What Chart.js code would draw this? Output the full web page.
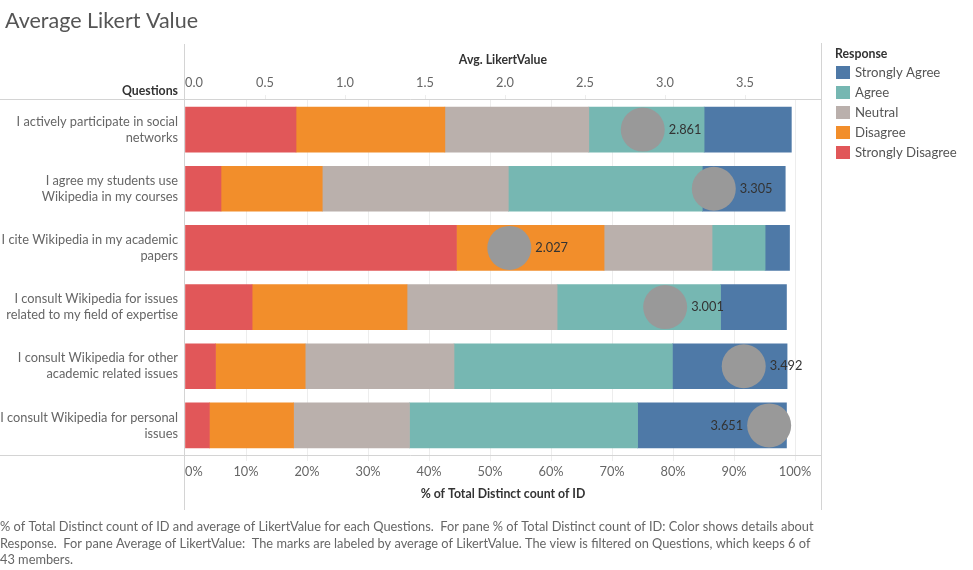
<!DOCTYPE html>
<html>
<head>
<meta charset="utf-8">
<script src="https://cdn.jsdelivr.net/npm/chart.js@4"></script>
<style>
  html, body { margin: 0; padding: 0; background: #fff; }
  #wrap { width: 973px; height: 570px; }
</style>
</head>
<body>
<div id="wrap"><canvas id="c" width="973" height="570"></canvas></div>
<script>
const questions = [
  ["I actively participate in social", "networks"],
  ["I agree my students use", "Wikipedia in my courses"],
  ["I cite Wikipedia in my academic", "papers"],
  ["I consult Wikipedia for issues", "related to my field of expertise"],
  ["I consult Wikipedia for other", "academic related issues"],
  ["I consult Wikipedia for personal", "issues"]
];
// % of Total Distinct count of ID per response
const stronglyDisagree = [18.2, 5.9, 44.5, 11.0, 5.0, 4.0];
const disagree         = [24.4, 16.6, 24.2, 25.4, 14.7, 13.8];
const neutral          = [23.6, 30.5, 17.7, 24.6, 24.4, 19.0];
const agree            = [18.9, 31.8, 8.7, 26.8, 35.8, 37.4];
const stronglyAgree    = [14.3, 13.6, 4.0, 10.8, 18.8, 24.4];
// Average LikertValue per question
const avgLikert = [2.861, 3.305, 2.027, 3.001, 3.492, 3.651];

const responses = ["Strongly Agree", "Agree", "Neutral", "Disagree", "Strongly Disagree"];
const colors = {
  "Strongly Agree": "#4e79a7",
  "Agree": "#76b7b2",
  "Neutral": "#bab0ac",
  "Disagree": "#f28e2b",
  "Strongly Disagree": "#e15759"
};

const FONT = "Lato";
const FS = 12.8;
Chart.defaults.font.family = FONT;
Chart.defaults.font.size = 12;
Chart.defaults.color = "#666";

const LINE = "#d4d4d4";
const GRID = "#ededed";

function barDs(label, data) {
  return {
    type: "bar", label, data,
    backgroundColor: colors[label],
    borderWidth: 0,
    barThickness: 45,
    xAxisID: "x", yAxisID: "y",
    order: 2
  };
}

const decor = {
  id: "decor",
  beforeDatasetsDraw(chart) {
    const ctx = chart.ctx;
    const a = chart.chartArea;
    ctx.save();
    ctx.strokeStyle = LINE;
    ctx.lineWidth = 1;
    ctx.beginPath();
    ctx.moveTo(0, Math.round(a.top) - 0.5); ctx.lineTo(Math.round(a.right) + 0.5, Math.round(a.top) - 0.5);
    ctx.moveTo(0, Math.round(a.bottom) + 0.5); ctx.lineTo(Math.round(a.right) + 0.5, Math.round(a.bottom) + 0.5);
    ctx.moveTo(Math.round(a.left) - 0.5, 44); ctx.lineTo(Math.round(a.left) - 0.5, 510);
    ctx.moveTo(Math.round(a.right) + 0.5, 43); ctx.lineTo(Math.round(a.right) + 0.5, 510);
    ctx.stroke();
    ctx.restore();
  },
  afterDatasetsDraw(chart) {
    const ctx = chart.ctx;
    const a = chart.chartArea;
    ctx.save();
    // value labels next to the average circles
    const meta = chart.getDatasetMeta(chart.data.datasets.length - 1);
    ctx.font = FS + "px " + FONT;
    ctx.fillStyle = "#333";
    ctx.textBaseline = "middle";
    meta.data.forEach((pt, i) => {
      const txt = avgLikert[i].toFixed(3);
      const w = ctx.measureText(txt).width;
      const r = 22;
      if (pt.x + r + 5 + w <= a.right) {
        ctx.textAlign = "left";
        ctx.fillText(txt, pt.x + r + 4, pt.y);
      } else {
        ctx.textAlign = "right";
        ctx.fillText(txt, pt.x - r - 4, pt.y);
      }
    });

    // Title
    ctx.textAlign = "left";
    ctx.fillStyle = "#555";
    ctx.font = "21.5px " + FONT;
    ctx.fillText("Average Likert Value", 5, 21);

    // Row header
    ctx.textAlign = "right";
    ctx.fillStyle = "#333";
    ctx.font = "bold 12.3px " + FONT;
    ctx.fillText("Questions", 178, 91);

    // Legend
    ctx.textAlign = "left";
    ctx.fillText("Response", 835, 54);
    ctx.font = "13.2px " + FONT;
    responses.forEach((r, i) => {
      const y = 72.5 + i * 20;
      ctx.fillStyle = colors[r];
      ctx.fillRect(836, y - 6.5, 14, 13);
      ctx.fillStyle = "#555";
      ctx.fillText(r, 855, y);
    });

    // Footer caption
    ctx.fillStyle = "#666";
    ctx.font = FS + "px " + FONT;
    const foot = [
      "% of Total Distinct count of ID and average of LikertValue for each Questions.  For pane % of Total Distinct count of ID: Color shows details about",
      "Response.  For pane Average of LikertValue:  The marks are labeled by average of LikertValue. The view is filtered on Questions, which keeps 6 of",
      "43 members."
    ];
    foot.forEach((t, i) => ctx.fillText(t, 0, 527 + i * 16.5));
    ctx.restore();
  }
};

const chart = new Chart(document.getElementById("c"), {
  type: "bar",
  data: {
    labels: questions,
    datasets: [
      barDs("Strongly Disagree", stronglyDisagree),
      barDs("Disagree", disagree),
      barDs("Neutral", neutral),
      barDs("Agree", agree),
      barDs("Strongly Agree", stronglyAgree),
      {
        type: "scatter",
        label: "Avg. LikertValue",
        data: avgLikert.map((v, i) => ({ x: v, y: i })),
        xAxisID: "x2", yAxisID: "y",
        backgroundColor: "#999999",
        borderWidth: 0,
        pointRadius: 22,
        pointHoverRadius: 22,
        order: 0
      }
    ]
  },
  options: {
    indexAxis: "y",
    responsive: false,
    animation: false,
    devicePixelRatio: 1,
    events: [],
    layout: { padding: { left: 0, right: 152, top: 45, bottom: 60 } },
    plugins: { legend: { display: false }, tooltip: { enabled: false }, title: { display: false } },
    scales: {
      y: {
        type: "category",
        stacked: true,
        grid: { display: false, drawTicks: false },
        border: { display: false },
        ticks: { color: "#666", padding: 7, font: { size: FS, lineHeight: 16 / FS } },
        afterFit(s) { s.width = 185; }
      },
      x: {
        type: "linear",
        position: "bottom",
        stacked: true,
        min: 0,
        max: 104.26,
        afterBuildTicks(s) { s.ticks.push({ value: s.max }); },
        ticks: {
          stepSize: 10,
          includeBounds: false,
          autoSkip: false,
          maxRotation: 0,
          align: "inner",
          padding: 3,
          color: "#666",
          font: { size: FS },
          callback: v => (v > 100.5 ? "" : v + "%")
        },
        grid: {
          color: c => (c.tick && c.tick.value > 100.5) || (c.tick && c.tick.value === 0) ? "rgba(0,0,0,0)" : GRID,
          tickLength: 6
        },
        border: { display: false },
        title: {
          display: true,
          text: "% of Total Distinct count of ID",
          color: "#333",
          font: { size: 12.3, weight: "bold" },
          padding: { top: 0, bottom: 9 }
        },
        afterFit(s) { s.height = 55; }
      },
      x2: {
        type: "linear",
        position: "top",
        min: 0,
        max: 3.975,
        afterBuildTicks(s) { s.ticks.push({ value: s.max }); },
        ticks: {
          stepSize: 0.5,
          includeBounds: false,
          autoSkip: false,
          maxRotation: 0,
          align: "inner",
          padding: 4,
          color: "#666",
          font: { size: FS },
          callback: v => (v > 3.6 ? "" : v.toFixed(1))
        },
        grid: {
          drawOnChartArea: false,
          color: c => (c.tick && c.tick.value > 3.6) || (c.tick && c.tick.value === 0) ? "rgba(0,0,0,0)" : GRID,
          tickLength: 5
        },
        border: { display: false },
        title: {
          display: true,
          text: "Avg. LikertValue",
          color: "#333",
          font: { size: 12.3, weight: "bold" },
          padding: { top: 8, bottom: 0 }
        },
        afterFit(s) { s.height = 55; }
      }
    }
  },
  plugins: [decor]
});
</script>
</body>
</html>
